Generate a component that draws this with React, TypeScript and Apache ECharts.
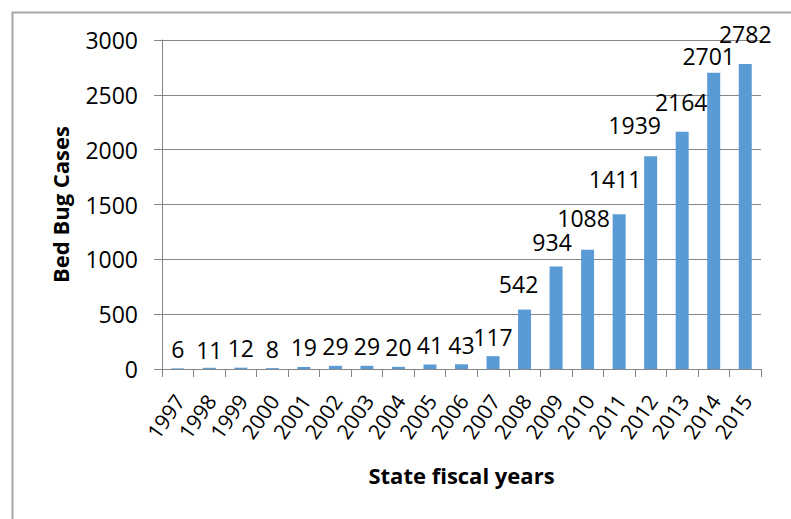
import React, { useEffect, useRef } from "react";
import * as echarts from "echarts";

const years = ["1997","1998","1999","2000","2001","2002","2003","2004","2005","2006","2007","2008","2009","2010","2011","2012","2013","2014","2015"];
const cases = [6, 11, 12, 8, 19, 29, 29, 20, 41, 43, 117, 542, 934, 1088, 1411, 1939, 2164, 2701, 2782];
const yTicks = { min: 0, max: 3000, interval: 500 };
// per-label nudges [dx, dy] as in the original layout
const labelNudges: [number, number][] = [
  [0, 0],[0, 2],[0, 0],[0, 0],[0, 0],[0, 0],[0, 0],[0, 0],[0, 0],[0, 0],[0, 0],
  [-6, -6],[-4, -5],[-4, -12],[-4, -16],[-16, -12],[-1, -10],[-5, 3],[0, -10],
];

const FONT = "'Open Sans', 'Liberation Sans', sans-serif";

export default function App() {
  const ref = useRef<HTMLDivElement>(null);
  useEffect(() => {
    if (!ref.current) return;
    const chart = echarts.init(ref.current, null, { renderer: "svg" });
    chart.setOption({
      animation: false,
      backgroundColor: "#ffffff",
      textStyle: { fontFamily: FONT },
      grid: { left: 162, right: 30, top: 40, bottom: 150, containLabel: false },
      graphic: [
        {
          type: "rect",
          left: 10,
          top: 10,
          shape: { x: 0, y: 0, width: 780, height: 530 },
          style: { fill: "none", stroke: "#A6A6A6", lineWidth: 2 },
          silent: true,
          z: -1,
        },
      ],
      xAxis: {
        type: "category",
        data: years,
        name: "State fiscal years",
        nameLocation: "middle",
        nameGap: 95,
        nameTextStyle: { fontFamily: FONT, fontWeight: "bold", fontSize: 22, color: "#000" },
        axisLine: { show: true, lineStyle: { color: "#868686", width: 1 } },
        axisTick: { show: true, length: 8, lineStyle: { color: "#868686" } },
        axisLabel: {
          interval: 0,
          rotate: 55,
          margin: 12,
          align: "right",
          verticalAlign: "top",
          padding: [0, 12, 0, 0],
          fontFamily: FONT,
          fontSize: 21,
          color: "#000",
        },
      },
      yAxis: {
        type: "value",
        min: yTicks.min,
        max: yTicks.max,
        interval: yTicks.interval,
        name: "Bed Bug Cases",
        nameLocation: "middle",
        nameGap: 91,
        nameRotate: 90,
        nameTextStyle: { fontFamily: FONT, fontWeight: "bold", fontSize: 22, color: "#000" },
        axisLine: { show: true, lineStyle: { color: "#868686", width: 1 } },
        axisTick: { show: true, length: 8, lineStyle: { color: "#868686" } },
        splitLine: { show: true, lineStyle: { color: "#868686", width: 1 } },
        axisLabel: {
          margin: 24,
          fontFamily: FONT,
          fontSize: 23,
          color: "#000",
          formatter: (v: number) => String(v),
        },
      },
      series: [
        {
          type: "bar",
          barWidth: 13,
          itemStyle: { color: "#5B9BD5" },
          data: cases.map((v, i) => ({
            value: v,
            label: { offset: labelNudges[i] },
          })),
          label: {
            show: true,
            position: "top",
            distance: 8,
            fontFamily: FONT,
            fontSize: 23,
            color: "#000",
          },
        },
      ],
    });
    return () => chart.dispose();
  }, []);
  return (
    <div
      ref={ref}
      style={{ position: "fixed", left: 0, top: 0, width: 791, height: 519, background: "#fff" }}
    />
  );
}
